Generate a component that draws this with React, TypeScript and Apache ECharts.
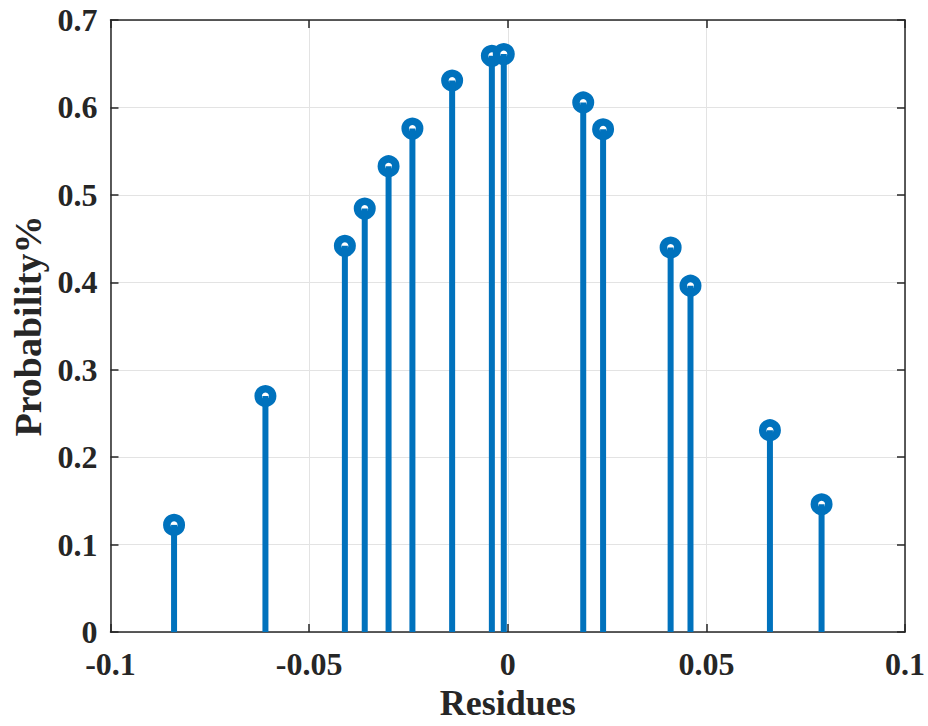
import React, { useEffect, useRef } from "react";
import * as echarts from "echarts";

const residues = [-0.084, -0.061, -0.041, -0.036, -0.030, -0.024, -0.014, -0.004, -0.001, 0.019, 0.024, 0.041, 0.046, 0.066, 0.079];
const probability = [0.1226, 0.270, 0.4417, 0.4843, 0.5328, 0.5758, 0.6307, 0.659, 0.661, 0.6057, 0.575, 0.4398, 0.3961, 0.2309, 0.1462];
const xTicks = { min: -0.1, max: 0.1, interval: 0.05 };
const yTicks = { min: 0, max: 0.7, interval: 0.1 };
const xTitle = "Residues";
const yTitle = "Probability%";

const BLUE = "#0072BD";
const AXIS = "#262626";
const FONT = '"Liberation Serif", "Times New Roman", serif';

function fmt(v: number) {
  return String(parseFloat(v.toFixed(3)));
}

export default function App() {
  const ref = useRef<HTMLDivElement>(null);
  useEffect(() => {
    if (!ref.current) return;
    const chart = echarts.init(ref.current, undefined, { renderer: "svg" });
    const points = residues.map((x, i) => [x, probability[i]]);
    const axisLine = { show: true, lineStyle: { color: AXIS, width: 1.5 } };
    const tick = { show: true, inside: true, length: 8, lineStyle: { color: AXIS, width: 1.5 } };
    const split = { show: true, lineStyle: { color: "#e3e3e3", width: 1 } };
    const label = { color: AXIS, fontFamily: FONT, fontWeight: "bold" as const, fontSize: 32, lineHeight: 24 };
    chart.setOption({
      animation: false,
      backgroundColor: "#ffffff",
      grid: { left: 110.5, right: 20.5, top: 20, bottom: 92, containLabel: false },
      xAxis: [
        {
          type: "value",
          position: "bottom",
          ...xTicks,
          axisLine: { ...axisLine, onZero: false },
          axisTick: tick,
          splitLine: split,
          axisLabel: { ...label, margin: 32, verticalAlign: "middle", formatter: fmt },
          name: xTitle,
          nameLocation: "middle",
          nameGap: 67,
          nameTextStyle: { ...label, fontSize: 36, lineHeight: 30, verticalAlign: "middle" },
        },
        {
          type: "value",
          position: "top",
          ...xTicks,
          axisLine: { ...axisLine, onZero: false },
          axisTick: tick,
          splitLine: { show: false },
          axisLabel: { show: false },
        },
      ],
      yAxis: [
        {
          type: "value",
          position: "left",
          ...yTicks,
          axisLine: { ...axisLine, onZero: false },
          axisTick: tick,
          splitLine: split,
          axisLabel: { ...label, margin: 13, formatter: fmt },
          name: yTitle,
          nameLocation: "middle",
          nameRotate: 90,
          nameGap: 80,
          nameTextStyle: { ...label, fontSize: 38, lineHeight: 30, verticalAlign: "middle" },
        },
        {
          type: "value",
          position: "right",
          ...yTicks,
          axisLine: { ...axisLine, onZero: false },
          axisTick: tick,
          splitLine: { show: false },
          axisLabel: { show: false },
        },
      ],
      series: [
        {
          type: "scatter",
          data: points,
          symbol: "circle",
          symbolSize: 14.5,
          itemStyle: { color: "#ffffff", borderColor: BLUE, borderWidth: 7.5, opacity: 1 },
          z: 2,
          silent: true,
        },
        {
          type: "custom",
          data: points,
          z: 3,
          silent: true,
          renderItem: (params: any, api: any) => {
            const x = api.value(0);
            const y = api.value(1);
            const p0 = api.coord([x, 0]);
            const p1 = api.coord([x, y]);
            return {
              type: "line",
              shape: { x1: p0[0], y1: p0[1], x2: p1[0], y2: p1[1] },
              style: { stroke: BLUE, lineWidth: 6, lineCap: "butt" },
            };
          },
        },
      ],
    });
    return () => chart.dispose();
  }, []);
  return (
    <div
      ref={ref}
      style={{ position: "fixed", left: 0, top: 0, width: 928, height: 726, background: "#fff" }}
    />
  );
}
